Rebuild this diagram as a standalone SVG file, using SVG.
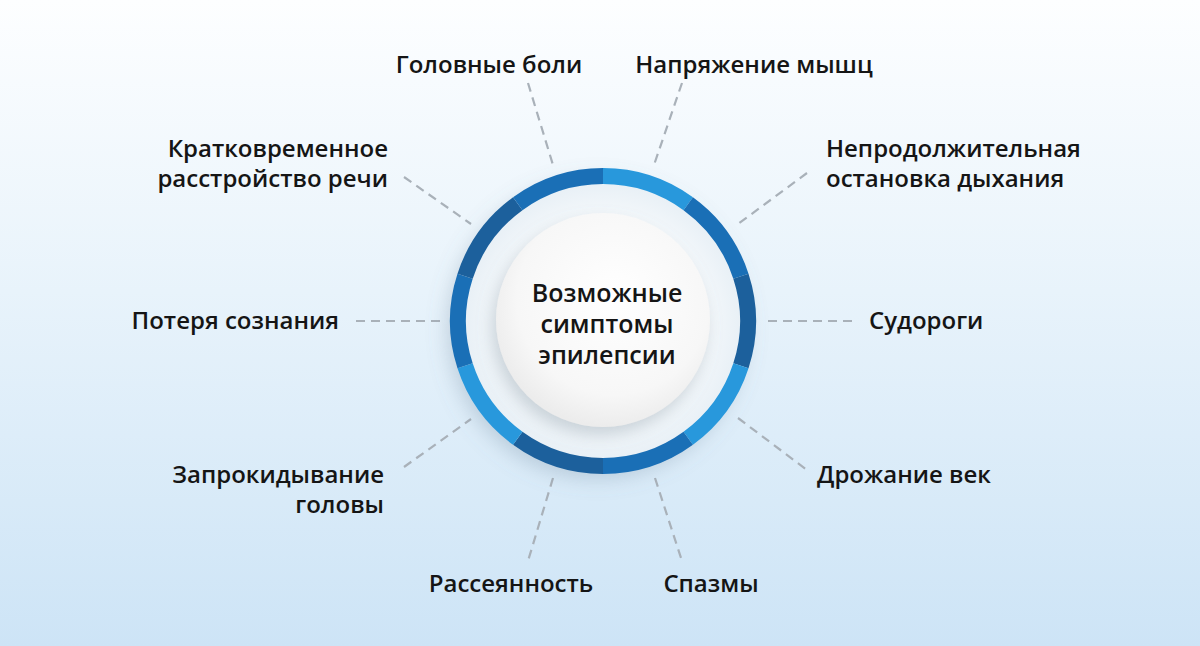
<svg xmlns="http://www.w3.org/2000/svg" width="1200" height="646" viewBox="0 0 1200 646">
<defs>
<linearGradient id="bg" x1="0" y1="0" x2="0" y2="1">
<stop offset="0" stop-color="#fdfeff"/>
<stop offset="0.45" stop-color="#e8f3fb"/>
<stop offset="1" stop-color="#cde4f6"/>
</linearGradient>
<radialGradient id="inner" cx="0.55" cy="0.4" r="0.6">
<stop offset="0" stop-color="#ffffff"/>
<stop offset="0.75" stop-color="#f7f7f7"/>
<stop offset="1" stop-color="#ececec"/>
</radialGradient>
<radialGradient id="disc" cx="0.5" cy="0.5" r="0.5">
<stop offset="0.7" stop-color="#f4f8fb"/>
<stop offset="1" stop-color="#e4edf4"/>
</radialGradient>
<filter id="sh" x="-30%" y="-30%" width="160%" height="160%">
<feDropShadow dx="-4" dy="8" stdDeviation="8" flood-color="#7a8a99" flood-opacity="0.35"/>
</filter>
<filter id="sh2" x="-30%" y="-30%" width="160%" height="160%">
<feDropShadow dx="-6" dy="8" stdDeviation="10" flood-color="#6b8299" flood-opacity="0.3"/>
</filter>
</defs>
<style>
.t{font-family:"Open Sans","Noto Sans","DejaVu Sans",sans-serif;font-weight:600;font-size:24px;fill:#151515}
.c{font-size:25px}
.d{fill:none;stroke:#a9b1b9;stroke-width:2.2;stroke-dasharray:9 6}
.seg{fill:none;stroke-width:16}
.l{stroke:#2898dc}
.m{stroke:#1a6fb6}
.k{stroke:#1c609c}
</style>
<rect width="1200" height="646" fill="url(#bg)"/>
<g id="connectors">
<line class="d" x1="528" y1="83" x2="553" y2="165"/>
<line class="d" x1="682" y1="83" x2="654" y2="165"/>
<line class="d" x1="404" y1="177" x2="471" y2="224"/>
<line class="d" x1="807" y1="173" x2="738" y2="224"/>
<line class="d" x1="356" y1="321" x2="441" y2="321"/>
<line class="d" x1="768" y1="321" x2="853" y2="321"/>
<line class="d" x1="404" y1="467" x2="471" y2="419"/>
<line class="d" x1="738" y1="418" x2="807" y2="470"/>
<line class="d" x1="553" y1="478" x2="528" y2="561"/>
<line class="d" x1="655" y1="478" x2="682" y2="561"/>
</g>
<g id="center">
<circle cx="603" cy="321" r="150" fill="url(#disc)" filter="url(#sh2)"/>
<g id="ring">
<path class="seg l" d="M603,176 A145,145 0 0 1 688.23,203.69"/>
<path class="seg m" d="M688.23,203.69 A145,145 0 0 1 740.91,276.19"/>
<path class="seg k" d="M740.91,276.19 A145,145 0 0 1 740.91,365.81"/>
<path class="seg l" d="M740.91,365.81 A145,145 0 0 1 688.23,438.31"/>
<path class="seg m" d="M688.23,438.31 A145,145 0 0 1 603,466"/>
<path class="seg k" d="M603,466 A145,145 0 0 1 517.77,438.31"/>
<path class="seg l" d="M517.77,438.31 A145,145 0 0 1 465.09,365.81"/>
<path class="seg m" d="M465.09,365.81 A145,145 0 0 1 465.09,276.19"/>
<path class="seg k" d="M465.09,276.19 A145,145 0 0 1 517.77,203.69"/>
<path class="seg m" d="M517.77,203.69 A145,145 0 0 1 603,176"/>
</g>
<circle cx="603" cy="320" r="107" fill="url(#inner)" filter="url(#sh)"/>
<text class="t c" text-anchor="middle"><tspan x="607" y="302">Возможные</tspan><tspan x="607" y="333">симптомы</tspan><tspan x="607" y="364">эпилепсии</tspan></text>
</g>
<g id="n1"><text class="t" x="489" y="73" text-anchor="middle">Головные боли</text></g>
<g id="n2"><text class="t" x="754" y="73" text-anchor="middle">Напряжение мышц</text></g>
<g id="n3"><text class="t" text-anchor="end"><tspan x="388" y="157">Кратковременное</tspan><tspan x="388" y="187">расстройство речи</tspan></text></g>
<g id="n4"><text class="t"><tspan x="826" y="157">Непродолжительная</tspan><tspan x="826" y="187">остановка дыхания</tspan></text></g>
<g id="n5"><text class="t" x="339" y="329" text-anchor="end">Потеря сознания</text></g>
<g id="n6"><text class="t" x="869" y="329">Судороги</text></g>
<g id="n7"><text class="t" text-anchor="end"><tspan x="384" y="483">Запрокидывание</tspan><tspan x="384" y="513">головы</tspan></text></g>
<g id="n8"><text class="t" x="817" y="483">Дрожание век</text></g>
<g id="n9"><text class="t" x="511" y="592" text-anchor="middle">Рассеянность</text></g>
<g id="n10"><text class="t" x="711" y="592" text-anchor="middle">Спазмы</text></g>
</svg>
